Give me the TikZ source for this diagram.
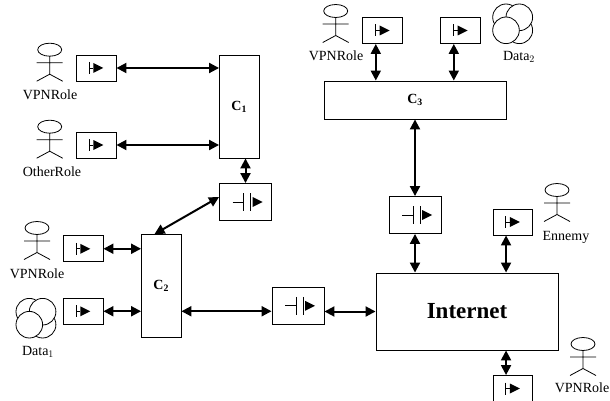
\documentclass[tikz,border=0pt]{standalone}
\usepackage{fontspec}
\setmainfont{Liberation Serif}
\usetikzlibrary{arrows.meta}
\tikzset{
  box/.style={draw,inner sep=0pt,line width=0.9pt},
  keybox/.style={box,minimum width=39.5pt,minimum height=26pt},
  gatebox/.style={box,minimum width=52pt,minimum height=37pt},
  link/.style={<->,line width=2pt},
  name tag/.style={font=\fontsize{14}{14}\selectfont,inner sep=0pt}
}
\begin{document}
\begin{tikzpicture}[x=1pt,y=-1pt,>={Triangle[length=10pt,width=10pt]}]
\useasboundingbox (0,0) rectangle (610,401);
% boxes
\node[box,minimum width=39.5pt,minimum height=102.5pt](cA)at(239.25,106.75){\fontsize{14}{14}\selectfont\textbf{C$_{\mathbf 1}$}};
\node[box,minimum width=39.5pt,minimum height=102.5pt](cB)at(161.25,285.75){\fontsize{14}{14}\selectfont\textbf{C$_{\mathbf 2}$}};
\node[box,minimum width=182pt,minimum height=38pt](cC)at(415,100){\fontsize{14}{14}\selectfont\textbf{C$_{\mathbf 3}$}};
\node[box,minimum width=182pt,minimum height=77pt](net)at(467,311.5){\fontsize{23}{23}\selectfont\textbf{Internet}};
\node[keybox](keyA)at(96.25,68){};
\node[keybox](keyB)at(96.25,145){};
\node[keybox](keyC)at(83.25,248.75){};
\node[keybox](keyD)at(83.25,311.25){};
\node[keybox](keyE)at(382.5,30.5){};
\node[keybox](keyF)at(460.5,30.5){};
\node[keybox](keyG)at(512.75,222){};
\node[keybox](keyH)at(512.75,388.5){};
\node[gatebox](gateA)at(245.5,202){};
\node[gatebox](gateB)at(298,305.75){};
\node[gatebox](gateC)at(415,215){};
% symbols in the boxes
\foreach \n in {keyA,keyB,keyC,keyD,keyE,keyF,keyG,keyH}{
  \draw[line width=0.9pt]([shift={(-7,-6)}]\n.center)--([shift={(-7,6)}]\n.center);
  \draw[line width=0.9pt]([shift={(-7,0)}]\n.center)--([shift={(-3,0)}]\n.center);
  \fill([shift={(-3,-5)}]\n.center)--([shift={(7,0)}]\n.center)--([shift={(-3,5)}]\n.center)--cycle;
}
\foreach \n in {gateA,gateB,gateC}{
  \draw[line width=0.9pt]([shift={(-13,0)}]\n.center)--([shift={(-1.7,0)}]\n.center);
  \draw[line width=0.9pt]([shift={(-1.7,-9)}]\n.center)--([shift={(-1.7,9)}]\n.center);
  \draw[line width=0.9pt]([shift={(5,-9)}]\n.center)--([shift={(5,9)}]\n.center);
  \fill([shift={(7,-5)}]\n.center)--([shift={(17,0)}]\n.center)--([shift={(7,5)}]\n.center)--cycle;
}
% actors
\foreach \i/\x/\y/\lx/\ly/\lbl in {a/49.7/49.7/50/95/VPNRole,b/49.7/126.7/52/172/OtherRole,c/335.7/11/336/56/VPNRole,d/37/228/37/274/VPNRole,e/557/190/566/237/Ennemy,f/583/344/582/388/VPNRole}{
  \draw[line width=0.8pt](\x,\y)ellipse(12 and 6.5);
  \draw[line width=0.8pt](\x,\y+6.5)--(\x,\y+24.5)(\x-13,\y+13)--(\x+13,\y+13)
    (\x-13,\y+31.5)--(\x,\y+24.5)--(\x+13,\y+31.5);
  \node[name tag](lbl\i)at(\lx,\ly){\lbl};
}
% data
\foreach \i/\x/\y/\lx/\ly/\lbl in {a/29.3/311.7/38/352/1,b/506/17.3/519/57/2}{
  \draw[line width=0.8pt,fill=white](\x,\y)circle(13.3);
  \draw[line width=0.8pt,fill=white](\x+13.3,\y+13)circle(13.3);
  \draw[line width=0.8pt,fill=white](\x+13.3,\y)circle(13.3);
  \draw[line width=0.8pt,fill=white](\x,\y+13)circle(13.3);
  \node[name tag](data\i)at(\lx,\ly){Data$_{\lbl}$};
}
% links
\draw[link](keyA.east)--(keyA.east-|cA.west);
\draw[link](keyB.east)--(keyB.east-|cA.west);
\draw[link](keyC.east)--(keyC.east-|cB.west);
\draw[link](keyD.east)--(keyD.east-|cB.west);
\draw[link](gateA.north)--(gateA.north|-cA.south);
\draw[link]([yshift=5pt]gateA.west)--([xshift=13.5pt]cB.north west);
\draw[link](keyD.east-|cB.east)--(keyD.east-|gateB.west);
\draw[link](net.west)--(net.west-|gateB.east);
\draw[link]([xshift=13.5pt]keyE.south west)--([xshift=13.5pt]keyE.south west|-cC.north);
\draw[link]([xshift=13.5pt]keyF.south west)--([xshift=13.5pt]keyF.south west|-cC.north);
\draw[link](gateC.north)--(gateC.north|-cC.south);
\draw[link](gateC.south)--(gateC.south|-net.north);
\draw[link]([xshift=13.5pt]keyG.south west)--([xshift=13.5pt]keyG.south west|-net.north);
\draw[link]([xshift=13.5pt]keyH.north west)--([xshift=13.5pt]keyH.north west|-net.south);
\end{tikzpicture}
\end{document}
